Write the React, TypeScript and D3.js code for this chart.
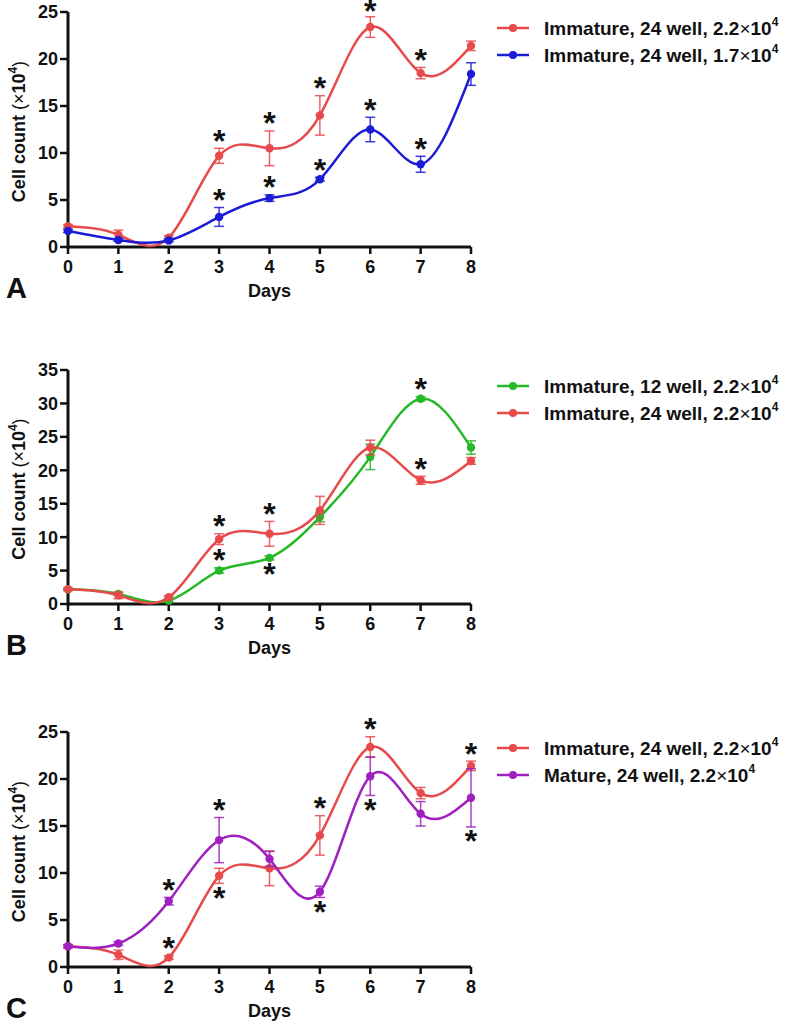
import React, { useRef, useEffect } from 'react'
import * as d3 from 'd3'

// days on the x axis
const days = [0, 1, 2, 3, 4, 5, 6, 7, 8]
const yTicks25 = [0, 5, 10, 15, 20, 25]
const yTicks35 = [0, 5, 10, 15, 20, 25, 30, 35]

// cell counts (x10^4), mean and error
const immature24High = [2.2, 1.3, 1.0, 9.7, 10.5, 14.0, 23.4, 18.5, 21.4]
const immature24HighErr = [0.15, 0.5, 0.2, 0.8, 1.85, 2.1, 1.1, 0.6, 0.5]
const immature24Low = [1.7, 0.75, 0.7, 3.2, 5.2, 7.2, 12.5, 8.8, 18.4]
const immature24LowErr = [0.15, 0.15, 0.15, 1.0, 0.35, 0.2, 1.3, 0.85, 1.2]
const immature12High = [2.2, 1.5, 0.5, 5.0, 6.9, 13.0, 22.0, 30.7, 23.4]
const immature12HighErr = [0.2, 0.2, 0.2, 0.4, 0.3, 0.7, 1.9, 0.3, 1.0]
const mature24High = [2.2, 2.5, 7.0, 13.5, 11.5, 8.0, 20.3, 16.3, 18.0]
const mature24HighErr = [0.15, 0.2, 0.4, 2.4, 0.8, 0.6, 2.05, 1.3, 3.1]

// legend text (the x10^4 part is appended)
const labelImm24High = 'Immature, 24 well, 2.2'
const labelImm24Low = 'Immature, 24 well, 1.7'
const labelImm12High = 'Immature, 12 well, 2.2'
const labelMat24High = 'Mature, 24 well, 2.2'

// significance marks: [series index, day, below?]
const starsA: [number, number, boolean][] = [
  [0, 3, false], [0, 4, false], [0, 5, false], [0, 6, false], [0, 7, false],
  [1, 3, false], [1, 4, false], [1, 5, false], [1, 6, false], [1, 7, false]
]
const starsB: [number, number, boolean][] = [
  [1, 3, false], [1, 4, false], [1, 7, false],
  [0, 3, false], [0, 4, true], [0, 7, false]
]
const starsC: [number, number, boolean][] = [
  [0, 2, false], [0, 3, true], [0, 5, false], [0, 6, false], [0, 8, false],
  [1, 2, false], [1, 3, false], [1, 5, true], [1, 6, true], [1, 8, true]
]

const RED = '#e84a4c'
const BLUE = '#1c1cd6'
const GREEN = '#26b826'
const PURPLE = '#a020bf'
const FONT = '"Liberation Sans", Arial, sans-serif'

interface Series {
  label: string
  color: string
  values: number[]
  errors: number[]
}

interface PanelDef {
  letter: string
  top: number
  bottom: number
  yMax: number
  ticks: number[]
  series: Series[]
  stars: [number, number, boolean][]
}

const panels: PanelDef[] = [
  {
    letter: 'A', top: 12, bottom: 247, yMax: 25, ticks: yTicks25,
    series: [
      { label: labelImm24High, color: RED, values: immature24High, errors: immature24HighErr },
      { label: labelImm24Low, color: BLUE, values: immature24Low, errors: immature24LowErr }
    ],
    stars: starsA
  },
  {
    letter: 'B', top: 370, bottom: 604, yMax: 35, ticks: yTicks35,
    series: [
      { label: labelImm12High, color: GREEN, values: immature12High, errors: immature12HighErr },
      { label: labelImm24High, color: RED, values: immature24High, errors: immature24HighErr }
    ],
    stars: starsB
  },
  {
    letter: 'C', top: 732, bottom: 967, yMax: 25, ticks: yTicks25,
    series: [
      { label: labelImm24High, color: RED, values: immature24High, errors: immature24HighErr },
      { label: labelMat24High, color: PURPLE, values: mature24High, errors: mature24HighErr }
    ],
    stars: starsC
  }
]

const STAR_SIZE = 32

const drawPanel = (svg: d3.Selection<SVGSVGElement, unknown, null, undefined>, p: PanelDef) => {
  const x = d3.scaleLinear().domain([0, 8]).range([68, 471])
  const y = d3.scaleLinear().domain([0, p.yMax]).range([p.bottom, p.top])
  const g = svg.append('g')

  // axes
  g.append('line')
    .attr('x1', x(0)).attr('x2', x(8))
    .attr('y1', p.bottom).attr('y2', p.bottom)
    .attr('stroke', '#111').attr('stroke-width', 3)
  g.append('line')
    .attr('x1', x(0)).attr('x2', x(0))
    .attr('y1', p.bottom + 1.5).attr('y2', p.top)
    .attr('stroke', '#111').attr('stroke-width', 3)

  days.forEach(d => {
    g.append('line')
      .attr('x1', x(d)).attr('x2', x(d))
      .attr('y1', p.bottom).attr('y2', p.bottom + 7)
      .attr('stroke', '#111').attr('stroke-width', 2.5)
    g.append('text')
      .attr('x', x(d)).attr('y', p.bottom + 26)
      .attr('text-anchor', 'middle')
      .style('font', `bold 18px ${FONT}`)
      .attr('fill', '#111')
      .text(d)
  })
  p.ticks.forEach(t => {
    g.append('line')
      .attr('x1', x(0) - 8).attr('x2', x(0))
      .attr('y1', y(t)).attr('y2', y(t))
      .attr('stroke', '#111').attr('stroke-width', 2.5)
    g.append('text')
      .attr('x', x(0) - 10).attr('y', y(t))
      .attr('dy', '0.36em')
      .attr('text-anchor', 'end')
      .style('font', `bold 18px ${FONT}`)
      .attr('fill', '#111')
      .text(t)
  })

  // axis titles
  g.append('text')
    .attr('x', (x(0) + x(8)) / 2).attr('y', p.bottom + 50)
    .attr('text-anchor', 'middle')
    .style('font', `bold 18px ${FONT}`)
    .attr('fill', '#111')
    .text('Days')
  g.append('text')
    .attr('x', 6).attr('y', p.bottom + 51)
    .style('font', `bold 29px ${FONT}`)
    .attr('fill', '#111')
    .text(p.letter)

  const yl = g.append('text')
    .attr('transform', `translate(25, ${(p.top + p.bottom) / 2 + 2}) rotate(-90)`)
    .attr('text-anchor', 'middle')
    .style('font-family', FONT)
    .style('font-size', '18px')
    .attr('fill', '#111')
  yl.append('tspan').style('font-weight', 'bold').text('Cell count ')
  yl.append('tspan').text('(×')
  yl.append('tspan').style('font-weight', 'bold').text('10')
  yl.append('tspan').style('font-weight', 'bold').style('font-size', '12px').attr('dy', -8).text('4')
  yl.append('tspan').attr('dy', 8).text(')')

  // series
  const line = d3.line<number>()
    .x((_, i) => x(days[i]))
    .y(v => y(v))
    .curve(d3.curveNatural)

  p.series.forEach(s => {
    const sg = g.append('g')
    s.values.forEach((v, i) => {
      const e = s.errors[i]
      sg.append('line')
        .attr('x1', x(days[i])).attr('x2', x(days[i]))
        .attr('y1', y(v - e)).attr('y2', y(v + e))
        .attr('stroke', s.color).attr('stroke-width', 1.5).attr('opacity', 0.85)
      ;[v - e, v + e].forEach(c => {
        sg.append('line')
          .attr('x1', x(days[i]) - 5).attr('x2', x(days[i]) + 5)
          .attr('y1', y(c)).attr('y2', y(c))
          .attr('stroke', s.color).attr('stroke-width', 1.5).attr('opacity', 0.85)
      })
    })
    sg.append('path')
      .attr('d', line(s.values))
      .attr('fill', 'none')
      .attr('stroke', s.color)
      .attr('stroke-width', 2.5)
    sg.selectAll('circle')
      .data(s.values)
      .enter()
      .append('circle')
      .attr('cx', (_, i) => x(days[i]))
      .attr('cy', v => y(v))
      .attr('r', 4.2)
      .attr('fill', s.color)
  })

  // stars
  p.stars.forEach(([si, d, below]) => {
    const s = p.series[si]
    const v = s.values[d]
    const e = s.errors[d]
    const cy = Math.max(below ? y(v - e) + 12 : y(v + e) - 10, 9)
    g.append('text')
      .attr('x', x(d)).attr('y', cy + STAR_SIZE * 0.42)
      .attr('text-anchor', 'middle')
      .style('font', `bold ${STAR_SIZE}px ${FONT}`)
      .attr('fill', '#111')
      .text('*')
  })

  // legend
  p.series.forEach((s, i) => {
    const ly = p.top + 16 + i * 27
    g.append('line')
      .attr('x1', 497).attr('x2', 529)
      .attr('y1', ly).attr('y2', ly)
      .attr('stroke', s.color).attr('stroke-width', 2.5)
    g.append('circle')
      .attr('cx', 513).attr('cy', ly).attr('r', 4)
      .attr('fill', s.color)
    const t = g.append('text')
      .attr('x', 544).attr('y', ly + 7)
      .style('font-family', FONT)
      .style('font-size', '19px')
      .attr('fill', '#111')
    t.append('tspan').style('font-weight', 'bold').text(s.label)
    t.append('tspan').text('×')
    t.append('tspan').style('font-weight', 'bold').text('10')
    t.append('tspan').style('font-weight', 'bold').style('font-size', '12px').attr('dy', -9).text('4')
  })
}

const App: React.FC = () => {
  const svgRef = useRef<SVGSVGElement>(null)

  useEffect(() => {
    if (!svgRef.current) return
    const svg = d3.select(svgRef.current)
    svg.selectAll('*').remove()
    svg.append('rect').attr('width', 790).attr('height', 1028).attr('fill', '#fff')
    panels.forEach(p => drawPanel(svg, p))
  }, [])

  return (
    <svg
      ref={svgRef}
      width={790}
      height={1028}
      style={{ position: 'absolute', left: 0, top: 0 }}
    />
  )
}

export default App
